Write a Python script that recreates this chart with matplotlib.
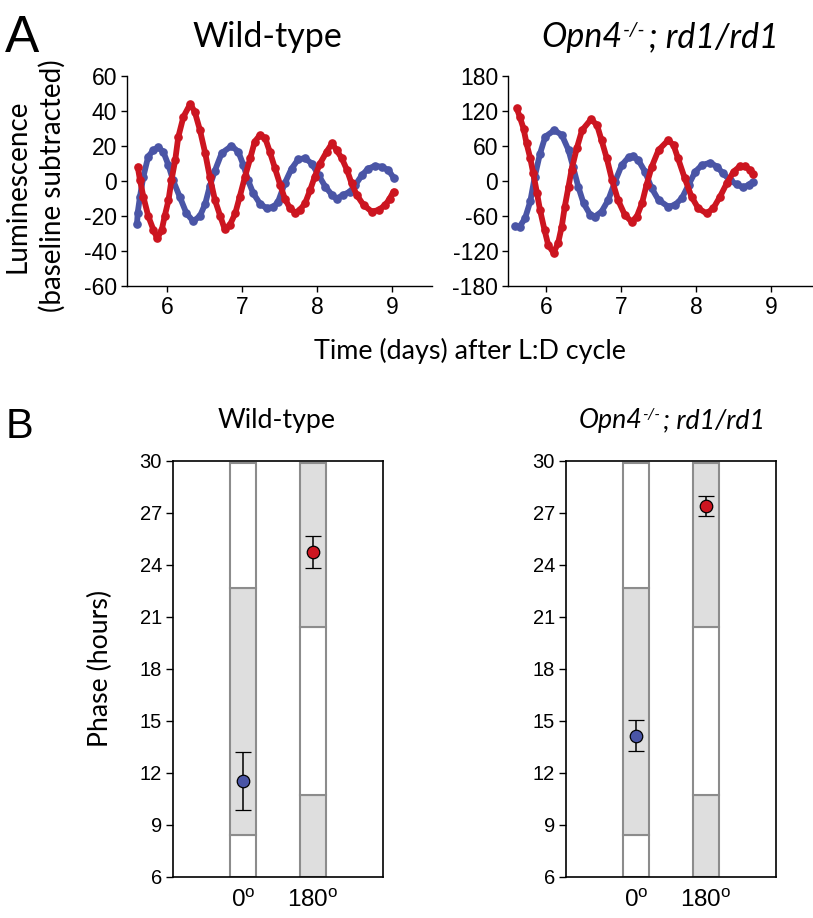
import matplotlib
matplotlib.use("Agg")
import matplotlib.pyplot as plt
from matplotlib.transforms import IdentityTransform

W, H, DPI = 813, 918, 100
BLUE = "#4A55A6"
RED = "#CC1520"
GREY_FILL = "#DEDEDE"
GREY_EDGE = "#8C8C8C"
NUM_FONT = "Liberation Sans"
TXT_FONT = "Lato"

plt.rcParams["font.family"] = [NUM_FONT, "DejaVu Sans"]
plt.rcParams["axes.unicode_minus"] = False
plt.rcParams["mathtext.fontset"] = "custom"
plt.rcParams["mathtext.rm"] = NUM_FONT

# ---------------- Panel A data (days, luminescence) ----------------
wt_blue_t = [5.60, 5.61, 5.64, 5.685, 5.75, 5.82, 5.885, 5.95, 6.02, 6.08, 6.17, 6.26,
             6.35, 6.44, 6.51, 6.57, 6.64, 6.73, 6.86, 6.95, 7.02, 7.08, 7.15, 7.24,
             7.33, 7.42, 7.48, 7.57, 7.66, 7.75, 7.84, 7.93, 8.02, 8.11, 8.20, 8.26,
             8.35, 8.44, 8.51, 8.60, 8.68, 8.77, 8.86, 8.95, 9.02]
wt_blue_v = [-24.8, -18, -9, 2.5, 14, 17.7, 19.2, 16.8, 9, 0.5, -9, -18.5,
             -23, -20, -13, -3, 6, 16, 20, 16.8, 9, 0.5, -7, -13,
             -15.6, -14.7, -12, -1.3, 7, 12.4, 13, 10, 3.4, -3.2, -8, -10,
             -8, -6, -2.3, 3.4, 7, 8.6, 8.2, 6.3, 2]

wt_red_t = [5.61, 5.64, 5.685, 5.75, 5.82, 5.87, 5.93, 5.97, 6.02, 6.06, 6.11, 6.15,
            6.22, 6.31, 6.37, 6.44, 6.51, 6.57, 6.64, 6.71, 6.77, 6.84, 6.91, 6.97,
            7.04, 7.11, 7.17, 7.24, 7.31, 7.37, 7.44, 7.51, 7.57, 7.64, 7.71, 7.77,
            7.84, 7.91, 7.97, 8.04, 8.13, 8.20, 8.26, 8.33, 8.40, 8.46, 8.53, 8.62,
            8.73, 8.82, 8.91, 8.97, 9.02]
wt_red_v = [8.2, 0.6, -9, -20, -28, -32.8, -28, -20, -11, 0.5, 12, 25,
            36.8, 44, 39.6, 29, 15.8, 2.5, -11, -20, -27.6, -25, -18.5, -9,
            2.5, 13, 22.5, 26.3, 24.4, 16.8, 7.2, -2.3, -10, -15.6, -18, -16.6,
            -12.8, -5, 2.5, 10, 16.8, 21.5, 17.7, 13, 6.3, -1.3, -8, -13.7,
            -17.5, -16.6, -13.7, -10, -6]

ko_blue_t = [5.59, 5.65, 5.72, 5.79, 5.85, 5.92, 5.99, 6.11, 6.21, 6.30, 6.36, 6.43,
             6.50, 6.59, 6.65, 6.74, 6.83, 6.92, 7.01, 7.10, 7.16, 7.23, 7.32, 7.41,
             7.50, 7.63, 7.72, 7.81, 7.90, 7.99, 8.08, 8.19, 8.28, 8.36, 8.45, 8.54,
             8.63, 8.70, 8.76]
ko_blue_v = [-77, -78, -64, -35, 7.4, 47, 76, 87, 79, 53, 24.6, -9.7,
             -38, -58, -61, -52.6, -32.6, -1, 27.4, 40.6, 42.9, 36, 16, -12.6,
             -32.6, -44, -41, -29.7, -6.9, 16, 27.4, 31.4, 24.6, 13, 1.7, -5.7,
             -10.9, -6.9, -1.1]

ko_red_t = [5.61, 5.65, 5.70, 5.74, 5.79, 5.83, 5.88, 5.92, 5.98, 6.03, 6.10, 6.16,
            6.21, 6.25, 6.30, 6.34, 6.41, 6.48, 6.60, 6.68, 6.74, 6.81, 6.88, 6.96,
            7.05, 7.14, 7.21, 7.28, 7.34, 7.41, 7.50, 7.63, 7.70, 7.76, 7.85, 7.94,
            8.03, 8.14, 8.23, 8.32, 8.41, 8.50, 8.59, 8.65, 8.72, 8.76]
ko_red_v = [124.6, 110, 90, 64.6, 38.9, 13, -21, -49.7, -84, -110, -123, -107,
            -78, -44, -9.7, 18.9, 56, 87, 105.7, 96, 70, 38.9, 1.7, -32.6,
            -58, -69.7, -61, -38, -6.9, 24.6, 53, 70, 61.7, 38.9, 4.6, -26.9,
            -46.9, -55.4, -46.9, -26.9, -4, 16, 25.7, 25.7, 18.9, 12]

a_x_ticks = [6, 7, 8, 9]
wt_y_ticks = [-60, -40, -20, 0, 20, 40, 60]
ko_y_ticks = [-180, -120, -60, 0, 60, 120, 180]

# ---------------- Panel B data ----------------
angle_labels = ["0", "180"]
angle_pos = [1, 2]
# light/dark schedule segments (hours): boundaries and fill per segment
sched_0_bounds = [6, 8.4, 22.7, 29.9]
sched_0_fill = ["white", "grey", "white"]
sched_180_bounds = [6, 10.75, 20.4, 29.9]
sched_180_fill = ["grey", "white", "grey"]

wt_phase = [11.52, 24.77]
wt_err = [1.68, 0.92]
ko_phase = [14.15, 27.40]
ko_err = [0.88, 0.57]
b_y_ticks = [6, 9, 12, 15, 18, 21, 24, 27, 30]

fig = plt.figure(figsize=(W / DPI, H / DPI), dpi=DPI)


def px_axes(left, top, right, bottom):
    return fig.add_axes([left / W, 1 - bottom / H, (right - left) / W, (bottom - top) / H])


def style_a(ax, yticks, xlim):
    for s in ["top", "right"]:
        ax.spines[s].set_visible(False)
    for s in ["left", "bottom"]:
        ax.spines[s].set_linewidth(1.0)
    ax.set_xlim(*xlim)
    ax.set_ylim(yticks[0], yticks[-1])
    ax.set_yticks(yticks)
    ax.set_xticks(a_x_ticks)
    ax.tick_params(direction="out", length=4, width=1.0, labelsize=16.5, pad=3)


def draw_series(ax, t, v, color):
    ax.plot(t, v, color=color, lw=4.2, marker="o", ms=5.2, mec=color, mfc=color,
            solid_capstyle="round", solid_joinstyle="round", clip_on=False)


axA1 = px_axes(127, 76, 432, 286)
style_a(axA1, wt_y_ticks, (5.467, 9.533))
draw_series(axA1, wt_blue_t, wt_blue_v, BLUE)
draw_series(axA1, wt_red_t, wt_red_v, RED)

axA2 = px_axes(508, 76, 813, 286)
style_a(axA2, ko_y_ticks, (5.493, 9.56))
draw_series(axA2, ko_blue_t, ko_blue_v, BLUE)
draw_series(axA2, ko_red_t, ko_red_v, RED)


def style_b(ax, bounds_list, fills_list):
    for s in ax.spines.values():
        s.set_linewidth(1.2)
    for x, bounds, fills in zip(angle_pos, bounds_list, fills_list):
        for lo, hi, f in zip(bounds[:-1], bounds[1:], fills):
            ax.bar(x, hi - lo, bottom=lo, width=0.38,
                   color=GREY_FILL if f == "grey" else "white",
                   edgecolor=GREY_EDGE, linewidth=1.5, zorder=1)
    ax.set_xlim(0, 3)
    ax.set_ylim(6, 30)
    ax.set_yticks(b_y_ticks)
    ax.set_xticks(angle_pos)
    ax.set_xticklabels([a + r"$^{\mathregular{o}}$" for a in angle_labels])
    ax.tick_params(axis="y", direction="out", length=5, width=1.0, labelsize=14.5, pad=3)
    ax.tick_params(axis="x", length=0, labelsize=17.5, pad=9)


def draw_points(ax, phase, err):
    for x, p, e, c in zip(angle_pos, phase, err, [BLUE, RED]):
        ax.errorbar(x, p, yerr=e, fmt="o", ms=9, mfc=c, mec="black", mew=0.9,
                    ecolor="black", elinewidth=1.1, capsize=6, capthick=1.1, zorder=3)


axB1 = px_axes(173, 461, 383, 877)
style_b(axB1, [sched_0_bounds, sched_180_bounds], [sched_0_fill, sched_180_fill])
draw_points(axB1, wt_phase, wt_err)

axB2 = px_axes(566, 461, 776, 877)
style_b(axB2, [sched_0_bounds, sched_180_bounds], [sched_0_fill, sched_180_fill])
draw_points(axB2, ko_phase, ko_err)

# ---------------- text ----------------
def ftext(x, y, s, **kw):
    return fig.text(x / W, 1 - y / H, s, **kw)


ftext(5, 52, "A", fontsize=37, family=NUM_FONT, ha="left", va="baseline")
ftext(6, 438, "B", fontsize=30, family=NUM_FONT, ha="left", va="baseline")

ftext(267, 47, "Wild-type", fontsize=24.5, family=TXT_FONT, ha="center", va="baseline")
ftext(277, 428, "Wild-type", fontsize=19.3, family=TXT_FONT, ha="center", va="baseline")

ftext(25, 186, "Luminescence", fontsize=20, family=TXT_FONT, rotation=90,
      rotation_mode="anchor", ha="center", va="baseline")
ftext(61, 186, "(baseline subtracted)", fontsize=20, family=TXT_FONT, rotation=90,
      rotation_mode="anchor", ha="center", va="baseline")
ftext(470, 359, "Time (days) after L:D cycle", fontsize=19.4, family=TXT_FONT,
      ha="center", va="baseline")
ftext(108, 668, "Phase (hours)", fontsize=19.2, family=TXT_FONT, rotation=90,
      rotation_mode="anchor", ha="center", va="baseline")

renderer = fig.canvas.get_renderer()


def chain_text(xc, ybase, pieces):
    items = []
    for s, size, rise in pieces:
        t = fig.text(0, 0, s, fontsize=size, fontstyle="italic", family=TXT_FONT,
                     transform=IdentityTransform(), ha="left", va="baseline")
        items.append((t, rise))
    widths = [t.get_window_extent(renderer).width for t, _ in items]
    cur = xc - sum(widths) / 2
    for (t, rise), w in zip(items, widths):
        t.set_position((cur, (H - ybase) + rise))
        cur += w


chain_text(660, 47, [("Opn4", 24.5, 0), ("-/-", 14.5, 11), ("\u2009; rd1/rd1", 24.5, 0)])
chain_text(672, 428, [("Opn4", 19.3, 0), ("-/-", 11.5, 9), ("\u2009; rd1/rd1", 19.3, 0)])

fig.savefig("out.png", dpi=DPI)
